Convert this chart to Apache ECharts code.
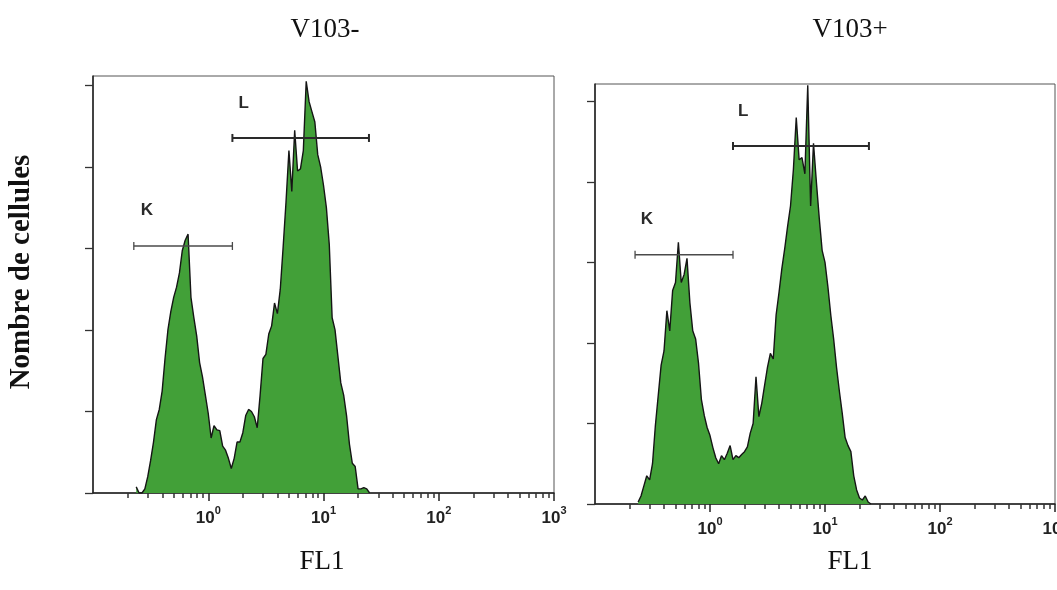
<!DOCTYPE html>
<html>
<head>
<meta charset="utf-8">
<title>FL1 histograms V103- / V103+</title>
<script src="https://cdn.jsdelivr.net/npm/echarts@6.0.0/dist/echarts.min.js"></script>
<style>
  html, body { margin: 0; padding: 0; background: #fff; }
  #chart { width: 1057px; height: 590px; }
</style>
</head>
<body>
<div id="chart"></div>
<script>
// FL1 log scale: channel 0 = 10^-1, 40 channels per decade
const channelsPerDecade = 40
const firstChannel = 15

const panelTitles = ['V103-', 'V103+']
const xAxisName = 'FL1'
const yAxisName = 'Nombre de cellules'

const xMajorTicks = [1, 10, 100, 1000]
const xMinorTicks = [0.2, 0.3, 0.4, 0.5, 0.6, 0.7, 0.8, 0.9,
  2, 3, 4, 5, 6, 7, 8, 9,
  20, 30, 40, 50, 60, 70, 80, 90,
  200, 300, 400, 500, 600, 700, 800, 900]
const yTicks = [0, 20, 40, 60, 80, 100]

// counts per channel, starting at firstChannel
const countsMinus = [
  1.5, 0, 0, 1, 4, 8, 12.5, 18, 20.5, 25,
  33, 40, 44.5, 48, 50.5, 54, 59.5, 62, 63.5, 48,
  43, 38.5, 32, 28.5, 24, 19.5, 13.5, 16.5, 15.5, 15.3,
  11.5, 10.5, 8.5, 6, 8.5, 12.5, 12.5, 14.8, 19, 20.5,
  20, 18.7, 16, 24, 33, 34, 39, 41, 46.6, 44,
  50, 60.4, 71.5, 84, 74, 89, 79, 79.5, 84, 101,
  96, 93.5, 91, 83, 80, 75.5, 70, 61, 43, 40,
  33.5, 27, 24, 19, 12, 7.3, 6.5, 1, 1, 1.3,
  1, 0
]
const countsPlus = [
  0.5, 2, 4.5, 7, 6, 10, 19.5, 27, 34.5, 38,
  48, 43, 53, 55, 65, 55, 57, 61, 50, 43,
  41, 35, 26, 22, 19, 17, 14, 11.5, 10, 12,
  11, 12.6, 14.5, 11, 12, 11.5, 12.3, 13, 14.2, 17.6,
  20, 31.6, 21.7, 25, 29.5, 34, 37.4, 36, 47, 52.5,
  58.5, 63.5, 69, 74, 83, 96, 85.5, 86, 82, 104,
  74, 89.6, 80, 71, 63, 60, 54, 47, 41, 34,
  28, 22.5, 16.5, 14.5, 13, 7, 3.5, 1.5, 1, 2,
  0.5, 0
]
const yMax = [102.3, 104.3]

// gates: [from, to, level, labelX, labelY]
const gateNames = ['K', 'L']
const gatesMinus = [[0.226, 1.62, 60.6, 0.26, 69.4], [1.62, 24.8, 87.1, 1.83, 95.7]]
const gatesPlus = [[0.223, 1.585, 61.9, 0.25, 70.8], [1.585, 24.1, 88.9, 1.75, 97.4]]

const grids = [
  { left: 93, top: 76, width: 461, height: 417 },
  { left: 595, top: 84, width: 460, height: 420 }
]

const chart = echarts.init(document.getElementById('chart'))

const toSeriesData = counts => counts.map((v, i) =>
  [Math.pow(10, -1 + (firstChannel + i) / channelsPerDecade), v])

const renderGate = (params, api) => {
  const a = api.coord([api.value(0), api.value(2)])
  const b = api.coord([api.value(1), api.value(2)])
  const t = api.coord([api.value(3), api.value(4)])
  const w = params.dataIndex === 1 ? 2 : 1.3
  const stroke = params.dataIndex === 1 ? '#2a2a2a' : '#4a4a4a'
  const line = (x1, y1, x2, y2) => ({
    type: 'line',
    shape: { x1, y1, x2, y2 },
    style: { stroke, lineWidth: w }
  })
  return {
    type: 'group',
    children: [
      line(a[0], a[1], b[0], b[1]),
      line(a[0], a[1] - 4, a[0], a[1] + 4),
      line(b[0], b[1] - 4, b[0], b[1] + 4),
      {
        type: 'text',
        x: t[0],
        y: t[1],
        style: {
          text: gateNames[params.dataIndex],
          font: 'bold 17px "Liberation Sans", Arial, sans-serif',
          fill: '#2a2a2a',
          align: 'left',
          verticalAlign: 'middle'
        }
      }
    ]
  }
}

const labelFont = '"Liberation Sans", Arial, sans-serif'
const xAxes = []
const yAxes = []
grids.forEach((g, i) => {
  xAxes.push({
    type: 'log',
    logBase: 10,
    gridIndex: i,
    min: 0.1,
    max: 1000,
    position: 'bottom',
    offset: 0,
    axisLine: { lineStyle: { color: '#222', width: 1.5 } },
    axisTick: { customValues: xMajorTicks, length: 8, lineStyle: { color: '#222', width: 1.5 } },
    axisLabel: {
      customValues: xMajorTicks,
      margin: 12,
      formatter: v => '{b|10}{s|' + Math.round(Math.log10(v)) + '}',
      rich: {
        b: { fontSize: 17, fontWeight: 'bold', fontFamily: labelFont, color: '#222', lineHeight: 22, verticalAlign: 'bottom' },
        s: { fontSize: 11, fontWeight: 'bold', fontFamily: labelFont, color: '#222', lineHeight: 22, verticalAlign: 'top' }
      }
    },
    splitLine: { show: false }
  })
  xAxes.push({
    type: 'log',
    logBase: 10,
    gridIndex: i,
    min: 0.1,
    max: 1000,
    position: 'bottom',
    offset: 0,
    axisLine: { show: false },
    axisTick: { customValues: xMinorTicks, length: 5, lineStyle: { color: '#333', width: 1.5 } },
    axisLabel: { show: false },
    splitLine: { show: false }
  })
  yAxes.push({
    type: 'value',
    gridIndex: i,
    min: 0,
    max: yMax[i],
    axisLine: { show: true, lineStyle: { color: '#222', width: 1.5 } },
    axisTick: { show: true, customValues: yTicks, length: 8, lineStyle: { color: '#333', width: 1.3 } },
    axisLabel: { show: false },
    splitLine: { show: false }
  })
})

const histSeries = (counts, i) => ({
  type: 'line',
  xAxisIndex: i * 2,
  yAxisIndex: i,
  symbol: 'none',
  silent: true,
  lineStyle: { color: '#151515', width: 1.4 },
  areaStyle: { color: '#42a038', opacity: 1 },
  data: toSeriesData(counts)
})

const gateSeries = (gates, i) => ({
  type: 'custom',
  xAxisIndex: i * 2,
  yAxisIndex: i,
  silent: true,
  renderItem: renderGate,
  data: gates,
  z: 5
})

const textStyle = (size, weight) => ({
  fontFamily: '"Liberation Serif", "Times New Roman", serif',
  fontSize: size,
  fontWeight: weight,
  fill: '#111',
  textAlign: 'center',
  textVerticalAlign: 'middle'
})

const option = {
  animation: false,
  grid: grids.map(g => Object.assign({
    show: true, borderColor: '#555', borderWidth: 1, containLabel: false, outerBoundsMode: 'none'
  }, g)),
  xAxis: xAxes,
  yAxis: yAxes,
  series: [
    histSeries(countsMinus, 0),
    histSeries(countsPlus, 1),
    gateSeries(gatesMinus, 0),
    gateSeries(gatesPlus, 1)
  ],
  graphic: [
    { type: 'text', x: 325, y: 30, style: Object.assign({ text: panelTitles[0] }, textStyle(27, 'normal')) },
    { type: 'text', x: 850, y: 30, style: Object.assign({ text: panelTitles[1] }, textStyle(27, 'normal')) },
    { type: 'text', x: 322, y: 562, style: Object.assign({ text: xAxisName }, textStyle(27, 'normal')) },
    { type: 'text', x: 850, y: 562, style: Object.assign({ text: xAxisName }, textStyle(27, 'normal')) },
    { type: 'text', x: 22, y: 272, rotation: Math.PI / 2, style: Object.assign({ text: yAxisName }, textStyle(29, 'bold')) }
  ]
}

chart.setOption(option)
window.addEventListener('resize', () => chart.resize())
</script>
</body>
</html>
